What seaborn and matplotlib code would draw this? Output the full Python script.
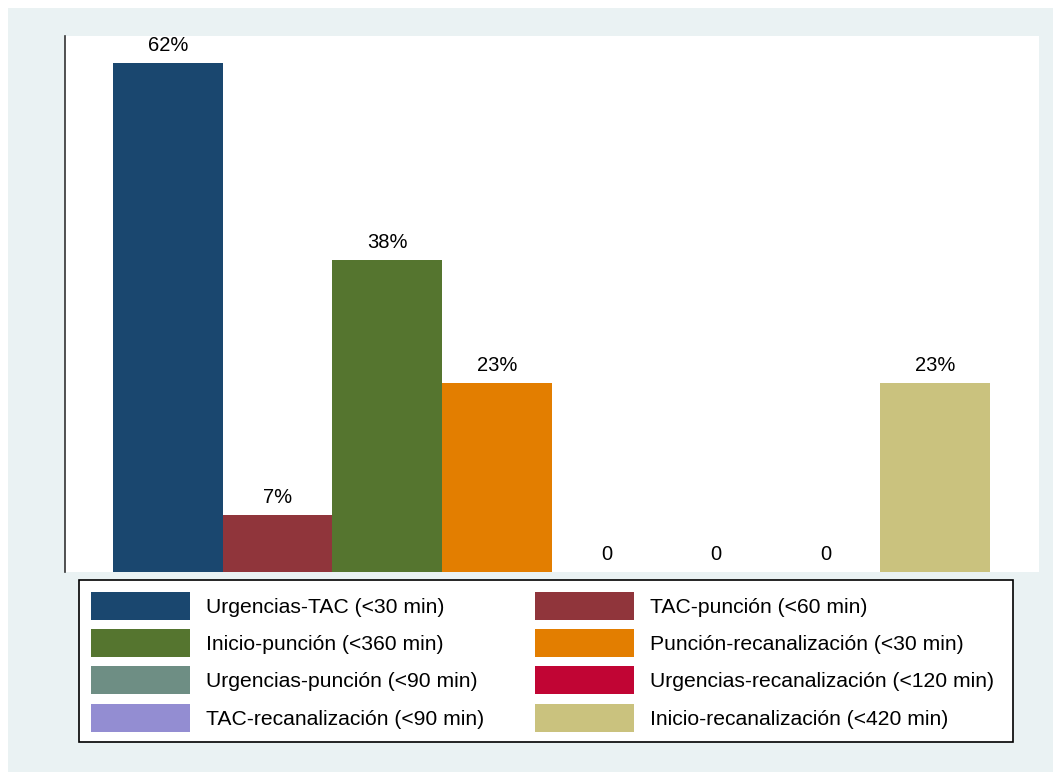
import matplotlib
matplotlib.use("Agg")
import matplotlib.pyplot as plt
import matplotlib.patches as mpatches
import seaborn as sns
import pandas as pd

categories = [
    "Urgencias-TAC (<30 min)",
    "TAC-punción (<60 min)",
    "Inicio-punción (<360 min)",
    "Punción-recanalización (<30 min)",
    "Urgencias-punción (<90 min)",
    "Urgencias-recanalización (<120 min)",
    "TAC-recanalización (<90 min)",
    "Inicio-recanalización (<420 min)",
]
values = [62, 7, 38, 23, 0, 0, 0, 23]
labels = ["62%", "7%", "38%", "23%", "0", "0", "0", "23%"]
colors = ["#1A476F", "#90353B", "#55752F", "#E37E00",
          "#6E8E84", "#C10534", "#938DD2", "#CAC27E"]

sns.set_theme(style="white")
plt.rcParams["font.family"] = ["Liberation Sans", "DejaVu Sans"]
plt.rcParams["text.color"] = "black"

df = pd.DataFrame({"cat": categories, "val": values})

W, H = 1053, 772
fig = plt.figure(figsize=(W / 100, H / 100), dpi=100)
fig.patch.set_facecolor("white")
# light graph region behind the plot
fig.patches.append(mpatches.Rectangle((8 / W, 0), 1 - 8 / W, 1 - 8 / H,
                                      transform=fig.transFigure,
                                      facecolor="#EAF2F3", edgecolor="none",
                                      zorder=-10))

ax = fig.add_axes([65 / W, (H - 572) / H, (1039 - 65) / W, (572 - 36) / H])
ax.set_facecolor("white")

sns.barplot(data=df, x="cat", y="val", hue="cat", palette=colors,
            order=categories, hue_order=categories, width=1.0,
            legend=False, saturation=1, ax=ax, edgecolor="none")

for i, (v, lab) in enumerate(zip(values, labels)):
    ax.annotate(lab, (i, v), xytext=(0, 12.5), textcoords="offset points",
                ha="center", va="center", fontsize=14.5, color="black")

ax.set_xlim(-0.938, 7.947)
ax.set_ylim(0, 65.3)
ax.set_xticks([])
ax.set_yticks([])
ax.set_xlabel("")
ax.set_ylabel("")
for side in ["top", "right", "bottom"]:
    ax.spines[side].set_visible(False)
ax.spines["left"].set_color("#333333")
ax.spines["left"].set_linewidth(1.2)

# legend box drawn as its own frame
fig.patches.append(mpatches.Rectangle((79 / W, (H - 742) / H),
                                      (1013 - 79) / W, (742 - 580) / H,
                                      transform=fig.transFigure,
                                      facecolor="white", edgecolor="black",
                                      linewidth=1.2, zorder=1))

# legend laid out row by row in two columns
handles = [mpatches.Patch(facecolor=c, edgecolor="none", label=l)
           for c, l in zip(colors, categories)]
order = [0, 2, 4, 6, 1, 3, 5, 7]
leg = fig.legend([handles[i] for i in order], [categories[i] for i in order],
                 ncol=2, loc="upper left",
                 bbox_to_anchor=(79 / W, (H - 580) / H),
                 frameon=False, fontsize=15.2, handlelength=4.7,
                 handleheight=1.65, handletextpad=0.75, labelspacing=0.45,
                 borderpad=0.56, columnspacing=2.40, borderaxespad=0)
leg.set_zorder(2)
for t in leg.get_texts():
    t.set_color("black")

fig.savefig("out.png", dpi=100, facecolor=fig.get_facecolor())
